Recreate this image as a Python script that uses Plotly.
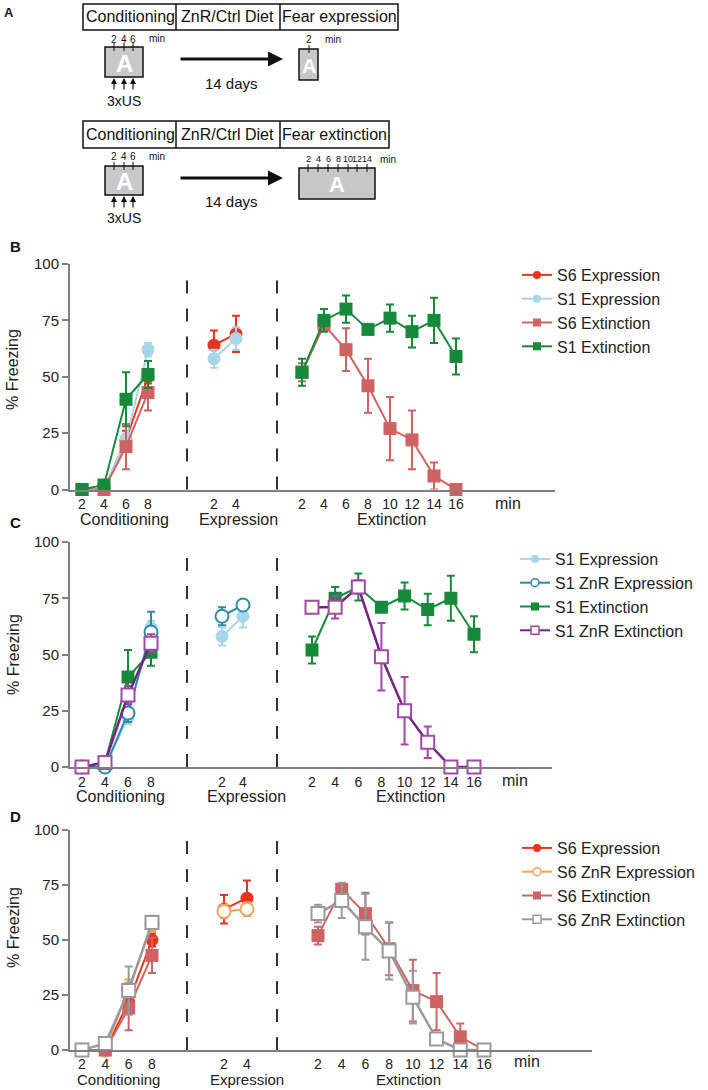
import plotly.graph_objects as go

# ---------------- data ----------------
cond_minutes = [2, 4, 6, 8]
expr_minutes = [2, 4]
ext_minutes = [2, 4, 6, 8, 10, 12, 14, 16]

cond_ticks = ["2", "4", "6", "8"]
expr_ticks = ["2", "4"]
ext_ticks = ["2", "4", "6", "8", "10", "12", "14", "16"]
y_ticks = [0, 25, 50, 75, 100]

s6_expr_cond = [0, 0, 22, 50]
s6_expr_cond_err = [0, 0, 4, 3]
s6_expr = [64, 69]
s6_expr_err = [6.5, 8]

s1_expr_cond = [0, 0, 22, 62]
s1_expr_cond_err = [0, 0, 3, 3]
s1_expr = [58, 67]
s1_expr_err = [4, 5]

s6_ext_cond = [0, 0, 19, 43]
s6_ext_cond_err = [0, 0, 10, 8]
s6_ext = [52, 73, 62, 46, 27, 22, 6, 0]
s6_ext_err = [4, 2, 9.5, 12, 14, 13, 6, 0]

s1_ext_cond = [0, 2, 40, 51]
s1_ext_cond_err = [0, 0, 12, 6]
s1_ext = [52, 75, 80, 71, 76, 70, 75, 59]
s1_ext_err = [6, 5, 6, 2, 6, 7, 10, 8]

s1_znr_expr_cond = [0, 0, 24, 60]
s1_znr_expr_cond_err = [0, 0, 4, 9]
s1_znr_expr = [67, 72]
s1_znr_expr_err = [4, 2]

s1_znr_ext_cond = [0, 2, 32, 55]
s1_znr_ext_cond_err = [0, 0, 4, 4]
s1_znr_ext = [71, 71, 80, 49, 25, 11, 0, 0]
s1_znr_ext_err = [0, 5, 3, 15, 15, 7, 0, 0]

s6_znr_expr_cond = [0, 0, 28, 57]
s6_znr_expr_cond_err = [0, 0, 4, 3]
s6_znr_expr = [63, 64]
s6_znr_expr_err = [3, 3]

s6_znr_ext_cond = [0, 3, 27, 58]
s6_znr_ext_cond_err = [0, 0, 11, 3]
s6_znr_ext = [62, 68, 56, 45, 24, 5, 0, 0]
s6_znr_ext_err = [4, 8, 15, 13, 12, 2, 0, 0]

# ---------------- styling ----------------
W, H = 708, 1090
FONT = "Liberation Sans, Arial, sans-serif"
TXT = "#222222"
AX = "#808080"

RED = "#e8341c"
LBLUE = "#a6d6e8"
PINK = "#cf6262"
GREEN = "#168a3a"
TEAL = "#2c8caa"
PURPLE_L = "#74237f"
PURPLE_M = "#a04aa6"
ORANGE = "#f2a55a"
GRAY = "#9a9a9a"


def fx(p):
    return p / W


def fy(p):
    return 1 - p / H


STY = {
    "S6 Expression": dict(line=RED, mk=RED, fill=RED, sym="circle", lw=2),
    "S1 Expression": dict(line=LBLUE, mk=LBLUE, fill=LBLUE, sym="circle", lw=2),
    "S6 Extinction": dict(line=PINK, mk=PINK, fill=PINK, sym="square", lw=2),
    "S1 Extinction": dict(line=GREEN, mk=GREEN, fill=GREEN, sym="square", lw=2),
    "S1 ZnR Expression": dict(line=TEAL, mk=TEAL, fill="white", sym="circle", lw=2),
    "S1 ZnR Extinction": dict(line=PURPLE_L, mk=PURPLE_M, fill="white", sym="square", lw=2.5),
    "S6 ZnR Expression": dict(line=ORANGE, mk=ORANGE, fill="white", sym="circle", lw=2),
    "S6 ZnR Extinction": dict(line=GRAY, mk=GRAY, fill="white", sym="square", lw=2.5),
}

SERIES = {
    "S6 Expression": (s6_expr_cond, s6_expr_cond_err, "expr", s6_expr, s6_expr_err),
    "S1 Expression": (s1_expr_cond, s1_expr_cond_err, "expr", s1_expr, s1_expr_err),
    "S6 Extinction": (s6_ext_cond, s6_ext_cond_err, "ext", s6_ext, s6_ext_err),
    "S1 Extinction": (s1_ext_cond, s1_ext_cond_err, "ext", s1_ext, s1_ext_err),
    "S1 ZnR Expression": (s1_znr_expr_cond, s1_znr_expr_cond_err, "expr", s1_znr_expr, s1_znr_expr_err),
    "S1 ZnR Extinction": (s1_znr_ext_cond, s1_znr_ext_cond_err, "ext", s1_znr_ext, s1_znr_ext_err),
    "S6 ZnR Expression": (s6_znr_expr_cond, s6_znr_expr_cond_err, "expr", s6_znr_expr, s6_znr_expr_err),
    "S6 ZnR Extinction": (s6_znr_ext_cond, s6_znr_ext_cond_err, "ext", s6_znr_ext, s6_znr_ext_err),
}

PANELS = [
    dict(letter="B", letter_y=246, y0=489.5, y100=264, cond=(82, 148), expr=(214, 236), ext=(302, 456),
         right=555, dash_top=278, title_y=519, title_fs=16, standoff=1, cond_tx=124, expr_tx=238,
         ext_tx=391, min_x=508, min_y=503, ylab_y=370, leg_x=517, leg_y=258,
         names=["S6 Expression", "S1 Expression", "S6 Extinction", "S1 Extinction"],
         ax=("x", "x2", "x3"), y="y", legend="legend"),
    dict(letter="C", letter_y=523, y0=767, y100=542, cond=(82, 151), expr=(222, 243), ext=(312, 474),
         right=552, dash_top=556, title_y=796, title_fs=16, standoff=1, cond_tx=120, expr_tx=247,
         ext_tx=410, min_x=515, min_y=780, ylab_y=655, leg_x=515, leg_y=542,
         names=["S1 Expression", "S1 ZnR Expression", "S1 Extinction", "S1 ZnR Extinction"],
         ax=("x4", "x5", "x6"), y="y2", legend="legend2"),
    dict(letter="D", letter_y=816, y0=1050, y100=830, cond=(82, 152), expr=(224, 247), ext=(318, 484),
         right=592, dash_top=839, title_y=1079.5, title_fs=15, standoff=0, cond_tx=118, expr_tx=247,
         ext_tx=408, min_x=527, min_y=1061, ylab_y=928, leg_x=517, leg_y=831,
         names=["S6 Expression", "S6 ZnR Expression", "S6 Extinction", "S6 ZnR Extinction"],
         ax=("x7", "x8", "x9"), y="y3", legend="legend3"),
]

YAX_X = 70
SPLIT = (187, 277)


def axis_range(d0, d1, va, pa, vb, pb):
    s = (pb - pa) / (vb - va)
    return [va + (d0 - pa) / s, va + (d1 - pa) / s]


fig = go.Figure()
layout = dict(
    width=W, height=H, margin=dict(l=0, r=0, t=0, b=0, autoexpand=False),
    paper_bgcolor="white", plot_bgcolor="white",
    font=dict(family=FONT, color=TXT),
    showlegend=True,
)
shapes = []
annotations = []


def akey(a):
    return "xaxis" if a == "x" else "xaxis" + a[1:]


def ykey(a):
    return "yaxis" if a == "y" else "yaxis" + a[1:]


for P in PANELS:
    xc, xe, xx = P["ax"]
    yk = P["y"]
    doms = {
        "cond": (YAX_X, SPLIT[0]),
        "expr": (SPLIT[0], SPLIT[1]),
        "ext": (SPLIT[1], P["right"]),
    }
    mins = {"cond": cond_minutes, "expr": expr_minutes, "ext": ext_minutes}
    ticks = {"cond": cond_ticks, "expr": expr_ticks, "ext": ext_ticks}
    names = {"cond": xc, "expr": xe, "ext": xx}
    for part in ("cond", "expr", "ext"):
        d0, d1 = doms[part]
        m = mins[part]
        pa, pb = P[part]
        layout[akey(names[part])] = dict(
            domain=[fx(d0), fx(d1)], anchor=yk,
            range=axis_range(d0, d1, m[0], pa, m[-1], pb),
            showline=True, linecolor=AX, linewidth=2, automargin=False,
            showgrid=False, zeroline=False, ticks="",
            tickvals=m, ticktext=ticks[part],
            tickfont=dict(size=14, color=TXT, family=FONT),
            ticklabelstandoff=P["standoff"], fixedrange=True,
        )
    layout[ykey(yk)] = dict(
        domain=[fy(P["y0"]), fy(P["y100"])], anchor=xc, range=[0, 100],
        showline=True, linecolor=AX, linewidth=2, showgrid=False, zeroline=False,
        ticks="outside", ticklen=6, tickwidth=2, tickcolor=AX, automargin=False,
        tickvals=y_ticks, tickfont=dict(size=15, color=TXT, family=FONT),
        fixedrange=True,
    )

    for nm in P["names"]:
        st = STY[nm]
        cvals, cerr, sess, svals, serr = SERIES[nm]
        sess_x = expr_minutes if sess == "expr" else ext_minutes
        sess_ax = xe if sess == "expr" else xx
        mk = dict(symbol=st["sym"], size=13, color=st["fill"],
                  line=dict(color=st["mk"], width=2 if st["fill"] == "white" else 0))
        for xv, yv, ev, xa in ((cond_minutes, cvals, cerr, xc), (sess_x, svals, serr, sess_ax)):
            fig.add_trace(go.Scatter(
                x=xv, y=yv, xaxis=xa, yaxis=yk, mode="lines+markers",
                line=dict(color=st["line"], width=st["lw"]), marker=mk,
                error_y=dict(type="data", array=ev, color=st["mk"], thickness=2, width=4),
                cliponaxis=False, showlegend=False, name=nm, legendgroup=nm + P["legend"],
            ))
        # legend entry (same style, smaller symbol)
        fig.add_trace(go.Scatter(
            x=[None], y=[None], xaxis=xc, yaxis=yk, mode="lines+markers", name=nm,
            line=dict(color=st["line"], width=2),
            marker=dict(symbol=st["sym"], size=8, color=st["fill"],
                        line=dict(color=st["mk"], width=1.5 if st["fill"] == "white" else 0)),
            showlegend=True, legend=P["legend"], legendgroup=nm + P["legend"],
        ))

    layout[P["legend"]] = dict(
        x=fx(P["leg_x"]), y=fy(P["leg_y"]), xanchor="left", yanchor="top",
        xref="paper", yref="paper", bgcolor="rgba(0,0,0,0)",
        font=dict(size=16, color=TXT, family=FONT), tracegroupgap=0,
        itemsizing="trace", itemwidth=30, traceorder="normal",
    )

    # dashed separators
    for sx in SPLIT:
        shapes.append(dict(type="line", xref="paper", yref="paper",
                           x0=fx(sx), x1=fx(sx), y0=fy(P["y0"]), y1=fy(P["dash_top"]),
                           line=dict(color="#333333", width=2, dash="13px,15px")))

    # texts
    def A(text, x, y, size, **kw):
        d = dict(text=text, x=fx(x), y=fy(y), xref="paper", yref="paper", showarrow=False,
                 font=dict(size=size, family=FONT, color=kw.pop("color", TXT)),
                 xanchor=kw.pop("xanchor", "center"), yanchor="middle")
        d.update(kw)
        annotations.append(d)

    A("<b>%s</b>" % P["letter"], 15, P["letter_y"], 15, color="#111")
    A("Conditioning", P["cond_tx"], P["title_y"], P["title_fs"])
    A("Expression", P["expr_tx"], P["title_y"], P["title_fs"])
    A("Extinction", P["ext_tx"], P["title_y"], P["title_fs"])
    A("min", P["min_x"], P["min_y"], 16)
    A("% Freezing", 13, P["ylab_y"], 16, textangle=-90)


# ---------------- panel A schematic ----------------
def rect(x0, y0, x1, y1, fill="white", w=1.5):
    shapes.append(dict(type="rect", xref="paper", yref="paper", x0=fx(x0), x1=fx(x1),
                       y0=fy(y1), y1=fy(y0), line=dict(color="#111", width=w), fillcolor=fill))


def vline(x, y0, y1, w=1.5, color="#111"):
    shapes.append(dict(type="line", xref="paper", yref="paper", x0=fx(x), x1=fx(x),
                       y0=fy(y0), y1=fy(y1), line=dict(color=color, width=w)))


def txt(text, x, y, size, color="#111", bold=False):
    annotations.append(dict(text=("<b>%s</b>" % text) if bold else text, x=fx(x), y=fy(y),
                            xref="paper", yref="paper", showarrow=False,
                            font=dict(size=size, family=FONT, color=color),
                            xanchor="center", yanchor="middle"))


def arrow(xt, yt, dx, dy, w, size, head=2):
    annotations.append(dict(text="", x=fx(xt), y=fy(yt), xref="paper", yref="paper",
                            showarrow=True, ax=dx, ay=dy, axref="pixel", ayref="pixel",
                            arrowhead=head, arrowwidth=w, arrowsize=size, arrowcolor="#111"))


txt("A", 9, 13, 13, bold=True)

for (top, bot, last_label, right) in ((4, 30, "Fear expression", 398), (121, 148, "Fear extinction", 389)):
    rect(83, top, right, bot)
    vline(176, top, bot)
    vline(280, top, bot)
    mid = (top + bot) / 2
    txt("Conditioning", 130, mid, 16)
    txt("ZnR/Ctrl Diet", 228, mid, 16)
    txt(last_label, (280 + right) / 2, mid, 16)

# conditioning boxes with US arrows
for (b0, b1, lab_y, us_y, arr_y) in ((47, 77, 39, 101, 59), (166, 195, 157, 218, 178)):
    rect(105, b0, 143, b1, fill="#c8c8c8")
    txt("A", 124, (b0 + b1) / 2 + 1, 24, color="white", bold=True)
    for tx, tl in zip((114, 124, 133), ("2", "4", "6")):
        vline(tx, b0 - 4, b0 + 4, w=1)
        txt(tl, tx, lab_y, 10)
        arrow(tx, b1 + 1, 0, 13, 1.2, 1.0)
    txt("min", 157, lab_y - 1, 10)
    txt("3xUS", 124, us_y, 14)
    arrow(283, arr_y, -104, 0, 3, 1.0)
    txt("14 days", 231, arr_y + 24, 15)

# expression box
rect(299, 49, 318, 80, fill="#c8c8c8")
txt("A", 309, 66, 20, color="white", bold=True)
vline(309, 45, 53, w=1)
txt("2", 309, 39, 10)
txt("min", 333, 39, 10)

# extinction box
rect(299, 168, 375, 199, fill="#c8c8c8")
txt("A", 337, 185, 22, color="white", bold=True)
for tx, tl in zip((308, 318, 328, 338, 348, 357, 367), ("2", "4", "6", "8", "10", "12", "14")):
    vline(tx, 164, 172, w=1)
    txt(tl, tx, 159, 9)
txt("min", 388, 159, 10)

layout["shapes"] = shapes
layout["annotations"] = annotations
fig.update_layout(**layout)
fig.write_html("out.html", config={"displayModeBar": False},
               post_script="document.body.style.margin='0';document.body.style.overflow='hidden';")
